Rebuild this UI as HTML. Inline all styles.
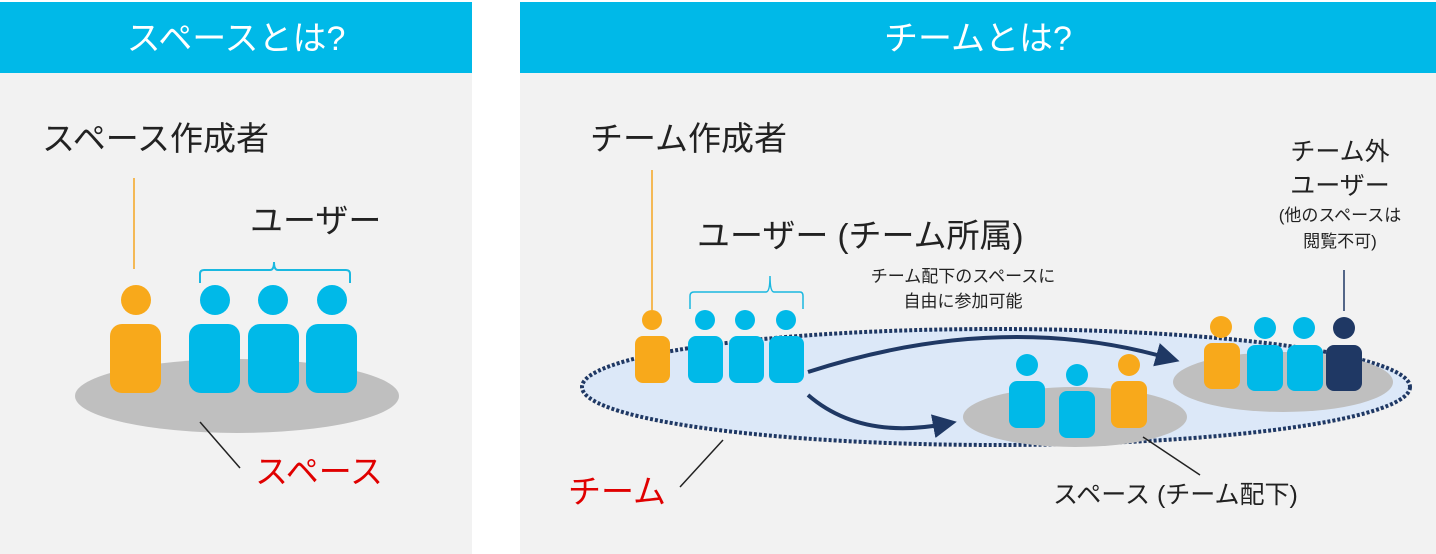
<!DOCTYPE html>
<html><head><meta charset="utf-8"><style>
html,body{margin:0;padding:0;background:#fff;}
svg{display:block;}
text{font-family:"Liberation Sans","Noto Sans CJK JP",sans-serif;}
</style></head><body>
<svg width="1436" height="554" viewBox="0 0 1436 554" xmlns="http://www.w3.org/2000/svg">
<defs>
<marker id="ah" markerWidth="6" markerHeight="6" refX="3" refY="3" orient="auto" markerUnits="strokeWidth">
<path d="M0,0 L6,3 L0,6 z" fill="#1f3864"/></marker>
</defs>
<rect x="0" y="2" width="472" height="552" fill="#f2f2f2"/>
<rect x="0" y="2" width="472" height="71" fill="#00b9e8"/>
<rect x="520" y="2" width="916" height="552" fill="#f2f2f2"/>
<rect x="520" y="2" width="916" height="71" fill="#00b9e8"/>
<text x="236" y="50" font-size="34" fill="#fff" text-anchor="middle">スペースとは?</text>
<text x="978" y="50" font-size="34" fill="#fff" text-anchor="middle">チームとは?</text>

<text x="42" y="150" font-size="33" fill="#222">スペース作成者</text>
<text x="250" y="232" font-size="33" fill="#222">ユーザー</text>
<line x1="134" y1="178" x2="134" y2="269" stroke="#f5a623" stroke-width="1.5"/>
<path d="M200,283 V274 Q200,270 204,270 H270 Q274,270 274,262 Q274,270 278,270 H346 Q350,270 350,274 V283" fill="none" stroke="#1ab8e0" stroke-width="2"/>
<ellipse cx="237" cy="396" rx="162" ry="37" fill="#bfbfbf"/>
<circle cx="136" cy="300" r="15" fill="#f8a91b"/>
<rect x="110" y="324" width="51" height="69" rx="12" fill="#f8a91b"/>
<circle cx="215" cy="300" r="15" fill="#00b9e8"/>
<rect x="189" y="324" width="51" height="69" rx="12" fill="#00b9e8"/>
<circle cx="273" cy="300" r="15" fill="#00b9e8"/>
<rect x="248" y="324" width="51" height="69" rx="12" fill="#00b9e8"/>
<circle cx="332" cy="300" r="15" fill="#00b9e8"/>
<rect x="306" y="324" width="51" height="69" rx="12" fill="#00b9e8"/>
<line x1="200" y1="422" x2="240" y2="468" stroke="#222" stroke-width="1.5"/>
<text x="255" y="483" font-size="33" fill="#e00000">スペース</text>

<text x="590" y="150" font-size="33" fill="#222">チーム作成者</text>
<text x="697" y="247" font-size="33" fill="#222">ユーザー (チーム所属)</text>
<text x="1340" y="160" font-size="25" fill="#222" text-anchor="middle">チーム外</text>
<text x="1340" y="194" font-size="25" fill="#222" text-anchor="middle">ユーザー</text>
<text x="1340" y="221" font-size="17" fill="#222" text-anchor="middle">(他のスペースは</text>
<text x="1340" y="247" font-size="17" fill="#222" text-anchor="middle">閲覧不可)</text>
<text x="963" y="282" font-size="17" fill="#222" text-anchor="middle">チーム配下のスペースに</text>
<text x="963" y="307" font-size="17" fill="#222" text-anchor="middle">自由に参加可能</text>
<line x1="652" y1="170" x2="652" y2="310" stroke="#f5a623" stroke-width="1.5"/>
<line x1="1344" y1="270" x2="1344" y2="311" stroke="#1f3864" stroke-width="1.5"/>
<path d="M690,309 V296 Q690,292 694,292 H766 Q770,292 770,276 Q770,292 774,292 H800 Q803,292 803,296 V309" fill="none" stroke="#1ab8e0" stroke-width="1.5"/>

<ellipse cx="996" cy="387" rx="414" ry="58" fill="#dce8f8" stroke="#1f3864" stroke-width="4" stroke-dasharray="3,2"/>
<ellipse cx="1075" cy="417" rx="112" ry="30" fill="#bfbfbf"/>
<ellipse cx="1283" cy="382" rx="110" ry="30" fill="#bfbfbf"/>

<circle cx="652" cy="320" r="10" fill="#f8a91b"/>
<rect x="635" y="336" width="35" height="47" rx="8" fill="#f8a91b"/>
<circle cx="705" cy="320" r="10" fill="#00b9e8"/>
<rect x="688" y="336" width="35" height="47" rx="8" fill="#00b9e8"/>
<circle cx="745" cy="320" r="10" fill="#00b9e8"/>
<rect x="729" y="336" width="35" height="47" rx="8" fill="#00b9e8"/>
<circle cx="786" cy="320" r="10" fill="#00b9e8"/>
<rect x="769" y="336" width="35" height="47" rx="8" fill="#00b9e8"/>

<circle cx="1027" cy="365" r="11" fill="#00b9e8"/>
<rect x="1009" y="381" width="36" height="47" rx="8" fill="#00b9e8"/>
<circle cx="1077" cy="375" r="11" fill="#00b9e8"/>
<rect x="1059" y="391" width="36" height="47" rx="8" fill="#00b9e8"/>
<circle cx="1129" cy="365" r="11" fill="#f8a91b"/>
<rect x="1111" y="381" width="36" height="47" rx="8" fill="#f8a91b"/>

<circle cx="1221" cy="327" r="11" fill="#f8a91b"/>
<rect x="1204" y="343" width="36" height="46" rx="8" fill="#f8a91b"/>
<circle cx="1265" cy="328" r="11" fill="#00b9e8"/>
<rect x="1247" y="345" width="36" height="46" rx="8" fill="#00b9e8"/>
<circle cx="1304" cy="328" r="11" fill="#00b9e8"/>
<rect x="1287" y="345" width="36" height="46" rx="8" fill="#00b9e8"/>
<circle cx="1344" cy="328" r="11" fill="#1f3864"/>
<rect x="1326" y="345" width="36" height="46" rx="8" fill="#1f3864"/>

<path d="M808,372 Q1000,310 1168,358" fill="none" stroke="#1f3864" stroke-width="4" marker-end="url(#ah)"/>
<path d="M808,395 Q860,440 945,424" fill="none" stroke="#1f3864" stroke-width="4" marker-end="url(#ah)"/>

<line x1="680" y1="487" x2="723" y2="440" stroke="#222" stroke-width="1.5"/>
<text x="568" y="503" font-size="33" fill="#e00000">チーム</text>
<line x1="1143" y1="437" x2="1200" y2="475" stroke="#222" stroke-width="1.5"/>
<text x="1053" y="503" font-size="25" fill="#222">スペース (チーム配下)</text>
</svg>
</body></html>
